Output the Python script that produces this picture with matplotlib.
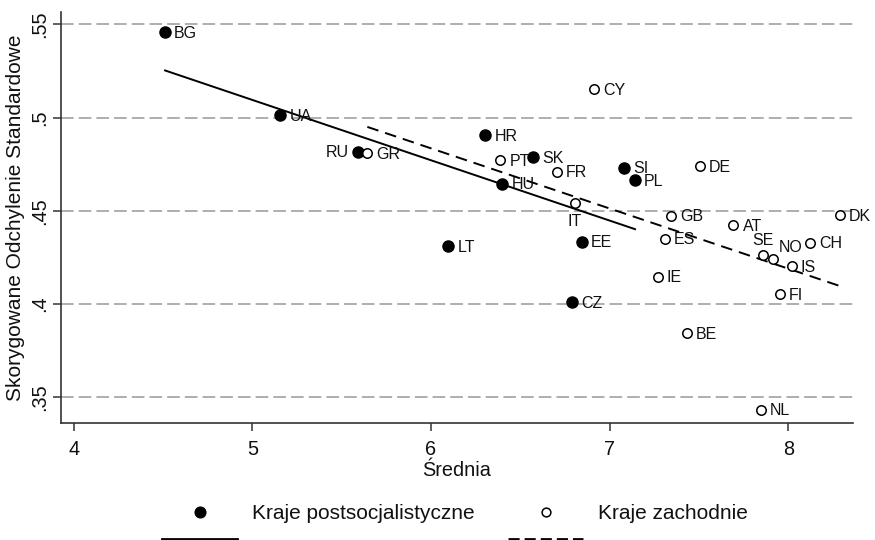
import numpy as np
import matplotlib
matplotlib.use("Agg")
import matplotlib.pyplot as plt
from matplotlib.lines import Line2D

plt.rcParams['font.family'] = ['Liberation Sans', 'DejaVu Sans']

# Post-socialist countries
ps_names = ['BG', 'UA', 'RU', 'HR', 'SK', 'SI', 'PL', 'HU', 'EE', 'LT', 'CZ']
ps_x = [4.512, 5.156, 5.594, 6.303, 6.570, 7.081, 7.142, 6.400, 6.844, 6.097, 6.788]
ps_y = [0.5457, 0.5014, 0.4817, 0.4906, 0.4788, 0.4731, 0.4664, 0.4645, 0.4334, 0.4311, 0.4011]

# Western countries
w_names = ['GR', 'PT', 'FR', 'DE', 'CY', 'IT', 'GB', 'DK', 'AT', 'ES', 'CH',
           'SE', 'NO', 'IS', 'IE', 'FI', 'BE', 'NL']
w_x = [5.644, 6.388, 6.704, 7.506, 6.913, 6.806, 7.342, 8.289, 7.692, 7.308, 8.121,
       7.857, 7.916, 8.019, 7.269, 7.953, 7.433, 7.847]
w_y = [0.4808, 0.4772, 0.4710, 0.4740, 0.5153, 0.4540, 0.4474, 0.4477, 0.4424, 0.4350, 0.4329,
       0.4261, 0.4244, 0.4204, 0.4147, 0.4052, 0.3843, 0.3432]

x_ticks = [4, 5, 6, 7, 8]
y_ticks = [0.35, 0.40, 0.45, 0.50, 0.55]
y_ticklabels = ['.35', '.4', '.45', '.5', '.55']
legend_labels = ['Kraje postsocjalistyczne', 'Kraje zachodnie']
xlabel = 'Średnia'
ylabel = 'Skorygowane Odchylenie Standardowe'

# label placement (Stata clock positions)
label_pos = {'RU': 'left', 'IT': 'below', 'SE': 'above', 'NO': 'upright'}

fig = plt.figure(figsize=(8.75, 5.4), dpi=100)
ax = fig.add_axes([0.0694, 0.2161, 0.9055, 0.7622])
ax.set_xlim(3.928, 8.362)
ax.set_ylim(0.336, 0.5568)

grid_col = '#a8a8a8'
for yt in y_ticks:
    ax.axhline(yt, color=grid_col, lw=1.3, ls=(0, (7, 2.8)), zorder=0)

ink = '#111111'
ax.plot(ps_x, ps_y, 'o', ms=8.0, color='black', mec='black', zorder=3, clip_on=False)
ax.plot(w_x, w_y, 'o', ms=6.8, mfc='white', mec='black', mew=1.1, zorder=3, clip_on=False)

# fitted lines
b1, a1 = np.polyfit(ps_x, ps_y, 1)
xs1 = np.array([min(ps_x), max(ps_x)])
ax.plot(xs1, a1 + b1 * xs1, color='black', lw=1.4, zorder=2)
b2, a2 = np.polyfit(w_x, w_y, 1)
xs2 = np.array([min(w_x), max(w_x)])
ax.plot(xs2, a2 + b2 * xs2, color='black', lw=1.4, ls=(0, (6.0, 3.6)), zorder=2)

fs_lab = 11.5
def label(name, x, y):
    pos = label_pos.get(name, 'right')
    if pos == 'right':
        ax.annotate(name, (x, y), xytext=(6.6, -0.8), textcoords='offset points',
                    ha='left', va='center', fontsize=fs_lab, color=ink)
    elif pos == 'left':
        ax.annotate(name, (x, y), xytext=(-7.0, -0.8), textcoords='offset points',
                    ha='right', va='center', fontsize=fs_lab, color=ink)
    elif pos == 'below':
        ax.annotate(name, (x, y), xytext=(0, -13.0), textcoords='offset points',
                    ha='center', va='center', fontsize=fs_lab, color=ink)
    elif pos == 'above':
        ax.annotate(name, (x, y), xytext=(0, 10.5), textcoords='offset points',
                    ha='center', va='center', fontsize=fs_lab, color=ink)
    elif pos == 'upright':
        ax.annotate(name, (x, y), xytext=(3.6, 8.0), textcoords='offset points',
                    ha='left', va='center', fontsize=fs_lab, color=ink)

for n, x, y in zip(ps_names, ps_x, ps_y):
    label(n, x, y)
for n, x, y in zip(w_names, w_x, w_y):
    label(n, x, y)

for s in ['top', 'right']:
    ax.spines[s].set_visible(False)
for s in ['left', 'bottom']:
    ax.spines[s].set_color('#333333')
    ax.spines[s].set_linewidth(1.2)

ax.set_xticks(x_ticks)
ax.set_xticklabels([str(t) for t in x_ticks])
ax.set_yticks(y_ticks)
ax.set_yticklabels(y_ticklabels, rotation=90, va='center')
ax.tick_params(axis='both', labelsize=14.3, colors='#333333', labelcolor=ink,
               length=5.5, width=1.1)
ax.tick_params(axis='x', pad=6.5)
ax.tick_params(axis='y', pad=2.8)

ax.set_xlabel(xlabel, fontsize=14.3, color=ink)
ax.xaxis.label.set_va('baseline')
ax.xaxis.set_label_coords(0.5, -0.127)
ax.set_ylabel(ylabel, fontsize=15, color=ink)
ax.yaxis.label.set_va('center')
ax.yaxis.set_label_coords(-0.0577, 0.5)

handles = [
    Line2D([], [], ls='none', marker='o', ms=7.7, color='black'),
    Line2D([], [], color='black', lw=2.0),
    Line2D([], [], ls='none', marker='o', ms=6.3, mfc='white', mec='black', mew=1.1),
    Line2D([], [], color='black', lw=2.0, ls=(0, (4.0, 1.8))),
]
labels = [legend_labels[0], ' ', legend_labels[1], ' ']
leg = fig.legend(handles, labels, ncol=2, loc='upper left',
                 bbox_to_anchor=(153.7 / 875, 1 - 496.1 / 540),
                 frameon=False, fontsize=15, handlelength=3.6, handletextpad=0.706,
                 columnspacing=1.63, labelspacing=0.355, borderaxespad=0, borderpad=0.4)
for t in leg.get_texts():
    t.set_color(ink)

fig.savefig('out.png', dpi=100)
